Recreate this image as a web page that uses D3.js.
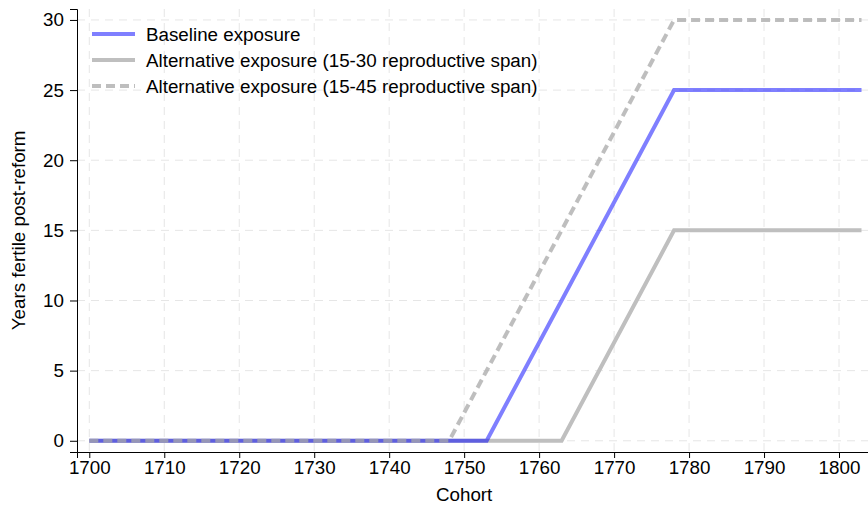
<!DOCTYPE html>
<html>
<head>
<meta charset="utf-8">
<script src="https://cdn.jsdelivr.net/npm/d3@7"></script>
<style>
  body { margin: 0; background: #fff; }
  text { font-family: "Liberation Sans", Arial, sans-serif; }
</style>
</head>
<body>
<svg id="chart" width="868" height="506"></svg>
<script>
// cohort breakpoints and years fertile after the reform
var baselineX = [1700, 1753, 1778, 1803];
var baselineY = [0, 0, 25, 25];
var alt30X = [1700, 1763, 1778, 1803];
var alt30Y = [0, 0, 15, 15];
var alt45X = [1700, 1748, 1778, 1803];
var alt45Y = [0, 0, 30, 30];

var xTicks = [1700, 1710, 1720, 1730, 1740, 1750, 1760, 1770, 1780, 1790, 1800];
var yTicks = [0, 5, 10, 15, 20, 25, 30];
var legendLabels = ["Baseline exposure",
  "Alternative exposure (15-30 reproductive span)",
  "Alternative exposure (15-45 reproductive span)"];

var fs = "18.8px";
var svg = d3.select("#chart");

var x = d3.scaleLinear().domain([1698.36, 1804]).range([77, 869]);
var y = d3.scaleLinear().domain([-0.8, 30.78]).range([452, 9]);

// grid
svg.append("g").selectAll("line").data(xTicks).enter().append("line")
    .attr("x1", d => x(d)).attr("x2", d => x(d))
    .attr("y1", 9).attr("y2", 452)
    .attr("stroke", "#e6e6e6").attr("stroke-width", 1)
    .attr("stroke-dasharray", "8,6");
svg.append("g").selectAll("line").data(yTicks).enter().append("line")
    .attr("x1", 77).attr("x2", 868)
    .attr("y1", d => y(d)).attr("y2", d => y(d))
    .attr("stroke", "#e6e6e6").attr("stroke-width", 1)
    .attr("stroke-dasharray", "8,6");

// axes
var xAxis = svg.append("g")
    .attr("transform", "translate(0,452)")
    .call(d3.axisBottom(x).tickValues(xTicks).tickFormat(d3.format("d")).tickSizeOuter(0).tickSize(6).tickPadding(3));
var yAxis = svg.append("g")
    .attr("transform", "translate(77,0)")
    .call(d3.axisLeft(y).tickValues(yTicks).tickSizeOuter(0).tickSize(7).tickPadding(6));
[xAxis, yAxis].forEach(function (a) {
  a.select(".domain").attr("stroke", "#000");
  a.selectAll(".tick line").attr("stroke", "#000");
  a.selectAll("text").style("font-size", fs).attr("fill", "#000")
    .style("font-family", '"Liberation Sans", Arial, sans-serif');
});

svg.append("text")
    .attr("x", x(1750)).attr("y", 501)
    .attr("text-anchor", "middle").style("font-size", fs)
    .text("Cohort");
svg.append("text")
    .attr("transform", "translate(25," + y(15) + ") rotate(-90)")
    .attr("text-anchor", "middle").style("font-size", fs)
    .text("Years fertile post-reform");

var line = d3.line().x(d => x(d[0])).y(d => y(d[1]));

svg.append("path")
    .datum(d3.zip(alt30X, alt30Y))
    .attr("d", line).attr("fill", "none")
    .attr("stroke", "#bfbfbf").attr("stroke-width", 4);
svg.append("path")
    .datum(d3.zip(baselineX, baselineY))
    .attr("d", line).attr("fill", "none")
    .attr("stroke", "#0000ff").attr("stroke-opacity", 0.5).attr("stroke-width", 4);
svg.append("path")
    .datum(d3.zip(alt45X, alt45Y))
    .attr("d", line).attr("fill", "none")
    .attr("stroke", "#a8a8a8").attr("stroke-opacity", 0.75).attr("stroke-width", 4)
    .attr("stroke-dasharray", "9,5");

// legend
var legendStyle = [
  { stroke: "#0000ff", opacity: 0.5, dash: null },
  { stroke: "#bfbfbf", opacity: 1, dash: null },
  { stroke: "#a8a8a8", opacity: 0.75, dash: "9,5" }
];
var legendY = [34, 60, 86];
var lg = svg.append("g").selectAll("g").data(legendLabels).enter().append("g")
    .attr("transform", (d, i) => "translate(92," + legendY[i] + ")");
lg.append("line")
    .attr("x1", 0).attr("x2", 43).attr("y1", 0).attr("y2", 0)
    .attr("stroke", (d, i) => legendStyle[i].stroke)
    .attr("stroke-opacity", (d, i) => legendStyle[i].opacity)
    .attr("stroke-dasharray", (d, i) => legendStyle[i].dash)
    .attr("stroke-width", 4);
lg.append("text")
    .attr("x", 54).attr("y", 0).attr("dy", "0.35em")
    .style("font-size", fs)
    .text(d => d);
</script>
</body>
</html>
